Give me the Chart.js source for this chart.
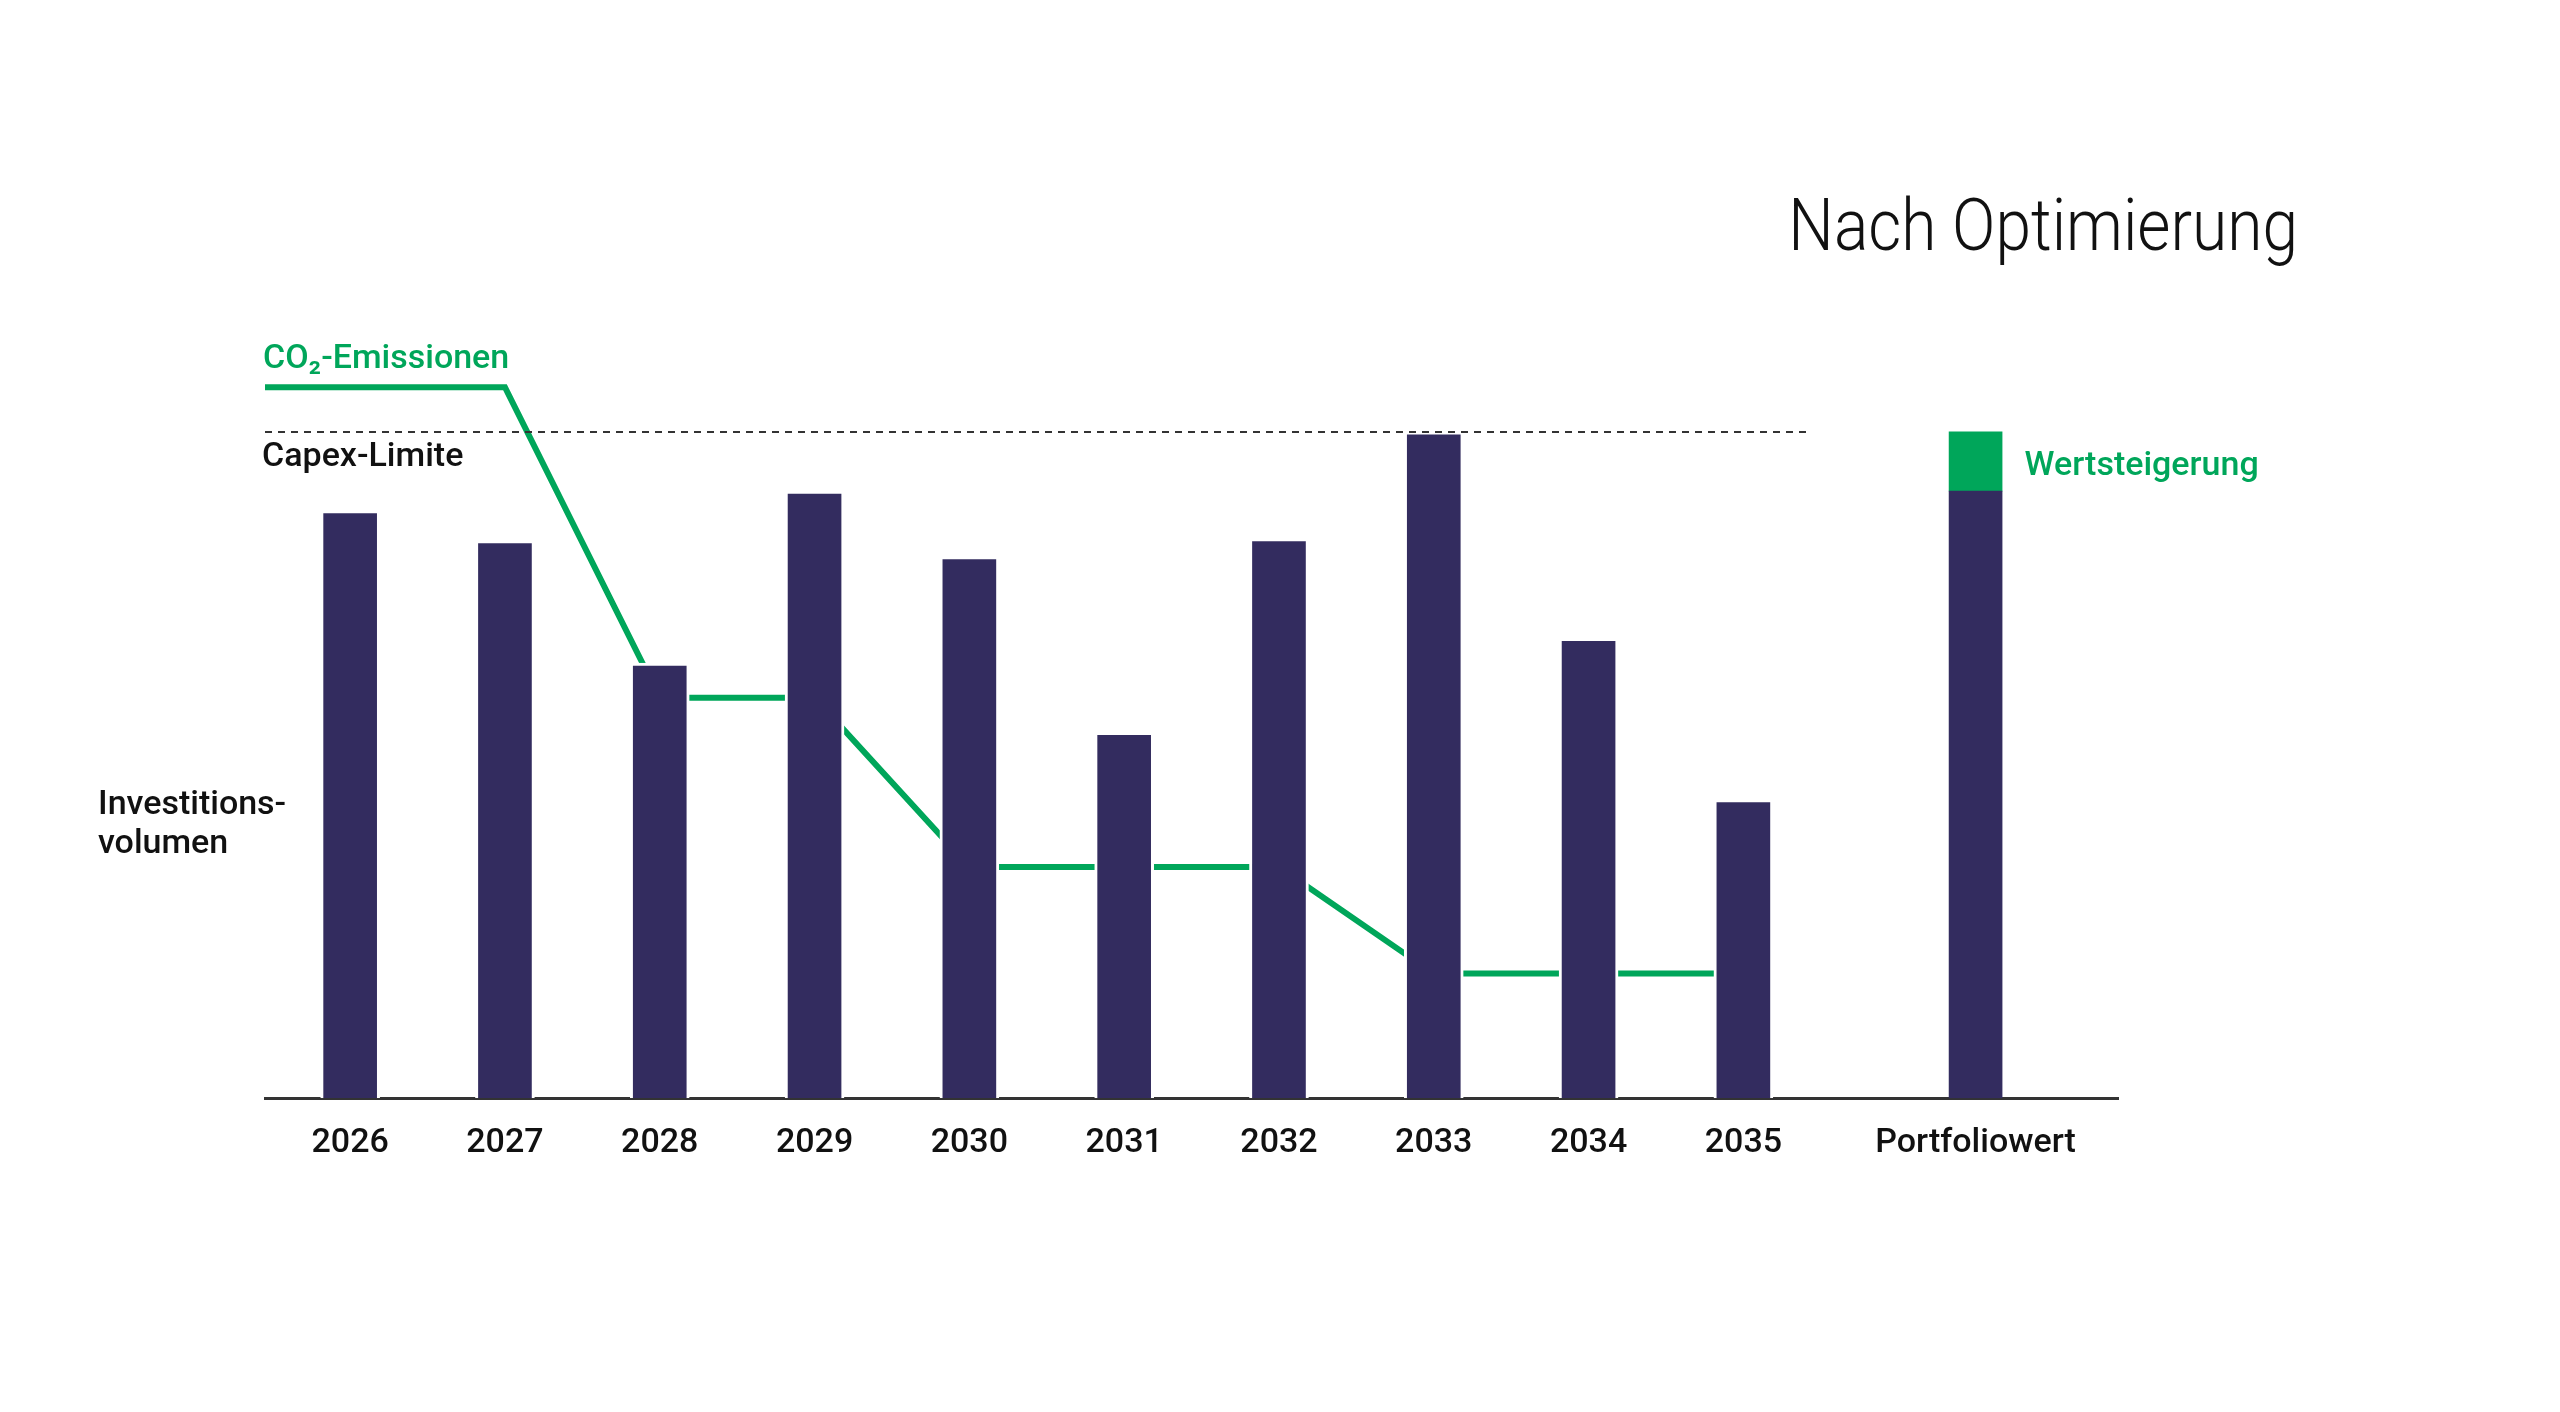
<!DOCTYPE html>
<html>
<head>
<meta charset="utf-8">
<script src="https://cdn.jsdelivr.net/npm/chart.js@4.4.1/dist/chart.umd.min.js"></script>
<style>
  html,body{margin:0;padding:0;background:#fff;}
  #wrap{width:2560px;height:1412px;position:relative;}
</style>
</head>
<body>
<div id="wrap"><canvas id="chart"></canvas></div>
<script>
// values, capex limit = 100
const YEARS=['2026','2027','2028','2029','2030','2031','2032','2033','2034','2035'];
const PORTFOLIO_LABEL='Portfoliowert';
const INVEST=[88.2,83.7,65.3,91.1,81.3,54.9,84.0,100,69.0,44.8];
const PORTFOLIO_BASE=91.1;
const PORTFOLIO_GAIN=8.9;
const CO2=[106.7,106.7,60.1,60.1,34.7,34.7,34.7,18.7,18.7,18.7];
const CAPEX_LIMIT=100;
// x positions (years 0..9, portfolio set apart)
const YEAR_POS=[0,1,2,3,4,5,6,7,8,9];
const PORTFOLIO_POS=10.5;
const X_MIN=-0.55, X_MAX=11.42, CAPEX_END=9.43;

const NAVY='#332c5f', GREEN='#00a65a', INK='#111111';
const FONT='Roboto, "Liberation Sans", Arial, sans-serif';

const annot={id:'annot',afterDatasetsDraw(chart){
  const {ctx,chartArea:a,scales:{x,y,y2}}=chart;
  ctx.save();
  ctx.textBaseline='alphabetic';
  ctx.textAlign='right';ctx.fillStyle=INK;
  ctx.font='300 72px '+FONT;
  ctx.save();
  ctx.translate(a.right+180,250);ctx.scale(0.89,1);
  ctx.fillText('Nach Optimierung',0,0);
  ctx.restore();
  ctx.textAlign='left';ctx.textBaseline='middle';
  ctx.font='500 34px '+FONT;
  ctx.fillStyle=GREEN;
  ctx.fillText('CO₂-Emissionen',a.left-2,y2.getPixelForValue(CO2[0])-28);
  ctx.fillText('Wertsteigerung',x.getPixelForValue(PORTFOLIO_POS)+49,y.getPixelForValue(CAPEX_LIMIT-PORTFOLIO_GAIN/2)+5);
  ctx.fillStyle=INK;
  ctx.fillText('Capex-Limite',a.left-3,y.getPixelForValue(CAPEX_LIMIT)+26);
  ctx.fillText('Investitions-',a.left-167,y.getPixelForValue(44));
  ctx.fillText('volumen',a.left-167,y.getPixelForValue(44)+39);
  ctx.restore();
}};

const tickPos=[...YEAR_POS,PORTFOLIO_POS];
const tickLabels=[...YEARS,PORTFOLIO_LABEL];

new Chart(document.getElementById('chart').getContext('2d'),{
  type:'bar',
  data:{datasets:[
    {type:'bar',data:YEAR_POS.map((p,i)=>({x:p,y:INVEST[i]})),backgroundColor:NAVY,borderColor:'#ffffff',borderWidth:3,borderSkipped:'start',barThickness:59,order:0},
    {type:'bar',data:[{x:PORTFOLIO_POS,y:PORTFOLIO_BASE}],backgroundColor:NAVY,borderWidth:0,barThickness:53,order:0},
    {type:'bar',data:[{x:PORTFOLIO_POS,y:PORTFOLIO_GAIN}],backgroundColor:GREEN,borderWidth:0,barThickness:53,order:0},
    {type:'line',yAxisID:'y2',data:[{x:X_MIN,y:CO2[0]},...YEAR_POS.map((p,i)=>({x:p,y:CO2[i]}))],borderColor:GREEN,borderWidth:6,pointRadius:0,tension:0,fill:false,order:2},
    {type:'line',yAxisID:'y2',data:[{x:X_MIN,y:CAPEX_LIMIT},{x:CAPEX_END,y:CAPEX_LIMIT}],borderColor:'#333333',borderWidth:2,borderDash:[7,6],pointRadius:0,fill:false,order:-1}
  ]},
  options:{responsive:true,maintainAspectRatio:false,animation:false,
    layout:{padding:{left:265,right:442,top:232,bottom:231}},
    plugins:{legend:{display:false},tooltip:{enabled:false}},
    scales:{
      x:{type:'linear',min:X_MIN,max:X_MAX,stacked:true,offset:false,
        grid:{display:false},border:{display:true,color:'#333333',width:3},
        afterBuildTicks:s=>{s.ticks=tickPos.map(v=>({value:v}));},
        ticks:{autoSkip:false,maxRotation:0,padding:17,color:INK,font:{family:FONT,size:34,weight:'500'},callback:(v,i)=>tickLabels[i]}},
      y:{min:0,max:130,stacked:true,display:false},
      y2:{min:0,max:130,display:false}
    }},
  plugins:[annot]
});
</script>
</body>
</html>
